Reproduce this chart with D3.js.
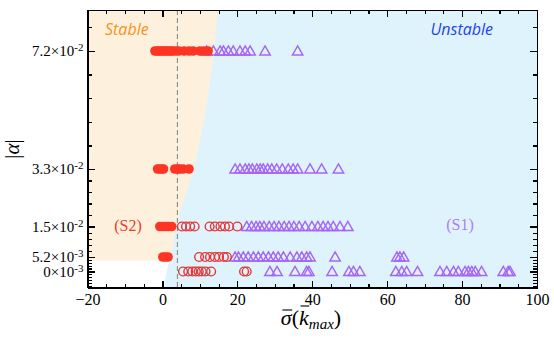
<!DOCTYPE html>
<html lang="en">
<head>
<meta charset="utf-8">
<title>stability map</title>
<script src="https://cdn.jsdelivr.net/npm/d3@7"></script>
<style>
  body { margin: 0; background: #fff; }
  .axis path, .axis line { stroke: #000; shape-rendering: crispEdges; }
  .axis path { stroke-width: 1.6; fill: none; }
  .axis line { stroke-width: 1.2; }
  .axis text { font: 16px "Liberation Serif", serif; fill: #000; }
  .yaxis text { font-size: 15px; }
</style>
</head>
<body>
<script>
// axis values
const sigmaDomain = [-20, 100];
const xTickValues = [-20, 0, 20, 40, 60, 80, 100];
const alphaDomain = [-0.0058, 0.0855];
const alphaTicks = [0, 0.0052, 0.015, 0.033, 0.072];
const alphaTickMant = ["0×10", "5.2×10", "1.5×10", "3.3×10", "7.2×10"];
const alphaTickExp = ["-3", "-3", "-2", "-2", "-2"];

// S2 filled circles (stable), one array per |alpha| level
const s2FilledA072 = [-2.0, -1.4, -0.9, -0.4, 0.2, 0.7, 1.2, 1.8, 2.3, 2.8, 3.6, 4.4, 5.8, 7.1, 8.2, 10.0, 11.1, 12.2];
const s2FilledA033 = [-1.3, -0.8, -0.2, 0.3, 3.3, 4.0, 4.6, 5.5, 7.1];
const s2FilledA015 = [-0.7, 0.0, 0.8, 1.6, 2.5];
const s2FilledA0052 = [0.1, 0.8, 1.5];

// S2 open circles (unstable)
const s2OpenA015 = [5.2, 6.3, 7.4, 8.6, 12.6, 14.0, 15.5, 16.7, 17.8, 20.0];
const s2OpenA0052 = [9.8, 11.4, 12.7, 14.0, 15.1, 16.4, 17.2];
const s2OpenA0 = [5.5, 6.9, 8.0, 8.9, 9.7, 10.5, 11.5, 13.0, 21.8, 22.5];

// S1 triangles (unstable)
const s1A072 = [11.8, 13.6, 15.4, 16.3, 17.6, 18.9, 20.7, 22.1, 23.4, 27.4, 36.1];
const s1A033 = [19.4, 20.7, 22.1, 23.1, 24.0, 25.2, 26.1, 26.9, 28.1, 29.2, 30.5, 32.0, 33.6, 34.9, 36.1, 39.4, 42.5, 47.0];
const s1A015 = [22.5, 23.8, 25.0, 26.0, 27.1, 28.5, 29.8, 31.1, 32.5, 33.8, 35.1, 36.5, 38.1, 39.9, 41.5, 42.9, 44.2, 45.6, 47.4, 49.5];
const s1A0052 = [19.4, 20.3, 21.6, 22.9, 24.3, 25.6, 26.9, 28.3, 29.6, 30.9, 32.3, 34.1, 35.9, 37.2, 38.5, 39.4, 46.1, 62.6, 63.4, 64.4];
const s1A0 = [28.7, 30.6, 35.4, 38.5, 39.1, 45.3, 49.8, 51.0, 52.7, 62.3, 63.9, 65.2, 68.1, 74.1, 75.9, 77.7, 79.0, 80.8, 81.7, 82.6, 83.5, 85.2, 91.0, 92.3, 92.8];

// stability boundary
const boundaryAlpha = [-0.0058, 0, 0.0052, 0.015, 0.033, 0.072, 0.0855];
const boundarySigma = [0.5, 1.1, 2.2, 3.7, 8.3, 13.7, 14.8];
const stableFloor = 0.0039;
const dashedSigma = 4.0;

var margin = {top: 10, right: 17, bottom: 53.5, left: 87.5},
    width = 554 - margin.left - margin.right,
    height = 341 - margin.top - margin.bottom;

// y axis is not uniform: each labelled level sits at its own height
var yStops = [1, 0.9423, 0.8901, 0.7802, 0.5730, 0.1477, 0];

var x = d3.scaleLinear().domain(sigmaDomain).range([0, width]);
var y = d3.scaleLinear()
          .domain([alphaDomain[0]].concat(alphaTicks, [alphaDomain[1]]))
          .range(yStops.map(function(f){ return f * height; }));

var svg = d3.select("body").append("svg")
            .attr("width", 554)
            .attr("height", 341)
            .append("g")
            .attr("transform", "translate(" + margin.left + "," + margin.top + ")");

svg.append("clipPath").attr("id", "clip")
   .append("rect").attr("width", width).attr("height", height);

var plot = svg.append("g").attr("clip-path", "url(#clip)");

// stable (orange) band, then unstable (blue) region on top of it
plot.append("rect")
    .attr("x", 0).attr("y", 0)
    .attr("width", width)
    .attr("height", y(stableFloor))
    .attr("fill", "#fdf1de");

var boundary = boundaryAlpha.map(function(a, i){ return {a: a, s: boundarySigma[i]}; });
plot.append("path")
    .datum(boundary)
    .attr("fill", "#dff3fc")
    .attr("d", d3.area()
        .curve(d3.curveMonotoneY)
        .y(function(d){ return y(d.a); })
        .x0(function(d){ return x(d.s); })
        .x1(x(sigmaDomain[1]) + 5));

plot.append("line")
    .attr("x1", x(dashedSigma)).attr("x2", x(dashedSigma))
    .attr("y1", 0).attr("y2", height)
    .attr("stroke", "#8a8a8a")
    .attr("stroke-width", 1.1)
    .attr("stroke-dasharray", "5,3");

// points
function rows(list) {
  var out = [];
  list.forEach(function(r){ r[1].forEach(function(s){ out.push({a: r[0], s: s}); }); });
  return out;
}
var s1Pts = rows([[0.072, s1A072], [0.033, s1A033], [0.015, s1A015], [0.0052, s1A0052], [0, s1A0]]);
var openPts = rows([[0.015, s2OpenA015], [0.0052, s2OpenA0052], [0, s2OpenA0]]);
var filledPts = rows([[0.072, s2FilledA072], [0.033, s2FilledA033], [0.015, s2FilledA015], [0.0052, s2FilledA0052]]);

plot.selectAll(".tri")
    .data(s1Pts)
    .enter().append("path")
    .attr("class", "tri")
    .attr("d", d3.symbol().type(d3.symbolTriangle).size(48))
    .attr("transform", function(d){ return "translate(" + x(d.s) + "," + (y(d.a) + 1) + ")"; })
    .attr("fill", "none")
    .attr("stroke", "#a565f5")
    .attr("stroke-width", 1.4);

plot.selectAll(".open")
    .data(openPts)
    .enter().append("circle")
    .attr("class", "open")
    .attr("cx", function(d){ return x(d.s); })
    .attr("cy", function(d){ return y(d.a); })
    .attr("r", 4.4)
    .attr("fill", "none")
    .attr("stroke", "#e3383a")
    .attr("stroke-width", 1.4);

plot.selectAll(".filled")
    .data(filledPts)
    .enter().append("circle")
    .attr("class", "filled")
    .attr("cx", function(d){ return x(d.s); })
    .attr("cy", function(d){ return y(d.a); })
    .attr("r", 4.8)
    .attr("fill", "#fe3524");

// minor tick values
var xMinor = d3.range(sigmaDomain[0], sigmaDomain[1] + 1, 5).filter(function(v){ return v % 20 !== 0; });
var yMinor = [];
for (var i = 0; i < alphaTicks.length - 1; i++) {
  for (var k = 1; k < 5; k++) yMinor.push(alphaTicks[i] + (alphaTicks[i + 1] - alphaTicks[i]) * k / 5);
}
var topStep = (alphaTicks[4] - alphaTicks[3]) / 5;
for (var v = alphaTicks[4] + topStep; v < alphaDomain[1]; v += topStep) yMinor.push(v);
var lowStep = (alphaTicks[1] - alphaTicks[0]) / 5;
for (var w = -lowStep; w > alphaDomain[0]; w -= lowStep) yMinor.push(w);

function ticks(axis, values, size, tr) {
  return svg.append("g").attr("class", "axis").attr("transform", tr)
            .call(axis.tickValues(values).tickSize(-size).tickSizeOuter(0).tickFormat(""));
}
ticks(d3.axisBottom(x), xMinor, 4, "translate(0," + height + ")");
ticks(d3.axisTop(x), xMinor, 4, "translate(0,0)");
ticks(d3.axisTop(x), xTickValues, 7, "translate(0,0)");
ticks(d3.axisLeft(y), yMinor, 4, "translate(0,0)");
ticks(d3.axisRight(y), yMinor, 4, "translate(" + width + ",0)");
ticks(d3.axisRight(y), alphaTicks, 7, "translate(" + width + ",0)");

svg.append("g").attr("class", "axis")
   .attr("transform", "translate(0," + height + ")")
   .call(d3.axisBottom(x).tickValues(xTickValues).tickSize(-7).tickSizeOuter(0).tickPadding(6));

var yAx = svg.append("g").attr("class", "axis yaxis")
   .call(d3.axisLeft(y).tickValues(alphaTicks).tickSize(-7).tickSizeOuter(0).tickPadding(4));
yAx.selectAll(".tick text").each(function(d, i){
  var t = d3.select(this).text(null);
  t.append("tspan").text(alphaTickMant[i]);
  t.append("tspan").attr("dy", "-0.45em").style("font-size", "11px").text(alphaTickExp[i]);
});

// region labels
svg.append("text")
   .attr("x", 105 - margin.left).attr("y", 35 - margin.top)
   .style("font", "italic 16px 'Open Sans', sans-serif")
   .attr("fill", "#f7931a")
   .text("Stable");
svg.append("text")
   .attr("x", 493 - margin.left).attr("y", 35 - margin.top)
   .attr("text-anchor", "end")
   .style("font", "italic 16px 'Open Sans', sans-serif")
   .attr("fill", "#2244ee")
   .text("Unstable");
svg.append("text")
   .attr("x", 128 - margin.left).attr("y", 231 - margin.top)
   .attr("text-anchor", "middle")
   .style("font", "16px 'Liberation Serif', serif")
   .attr("fill", "#f03a26")
   .text("(S2)");
svg.append("text")
   .attr("x", 460 - margin.left).attr("y", 230 - margin.top)
   .attr("text-anchor", "middle")
   .style("font", "16px 'Liberation Serif', serif")
   .attr("fill", "#b07cf2")
   .text("(S1)");

// axis titles
svg.append("text")
   .attr("transform", "translate(" + (19 - margin.left) + "," + (149 - margin.top) + ") rotate(-90)")
   .attr("text-anchor", "middle")
   .style("font", "21px 'Liberation Serif', serif")
   .html("|<tspan font-style='italic'>α</tspan>|");

var xt = svg.append("text")
   .attr("x", 311 - margin.left).attr("y", 325 - margin.top)
   .attr("text-anchor", "middle")
   .style("font", "22px 'Liberation Serif', serif");
xt.append("tspan").style("font-style", "italic").text("σ");
xt.append("tspan").text("(");
xt.append("tspan").style("font-style", "italic").text("k");
xt.append("tspan").style("font-style", "italic").style("font-size", "15px").attr("dy", 4).text("max");
xt.append("tspan").attr("dy", -4).text(")");
// overbars on sigma and k
[0, 2].forEach(function(ci){
  var e = xt.node().getExtentOfChar(ci);
  svg.append("line")
     .attr("x1", e.x + 1.5).attr("x2", e.x + e.width + 0.5)
     .attr("y1", e.y + (ci === 0 ? 5 : 1)).attr("y2", e.y + (ci === 0 ? 5 : 1))
     .attr("stroke", "#000").attr("stroke-width", 1.1);
});
</script>
</body>
</html>
